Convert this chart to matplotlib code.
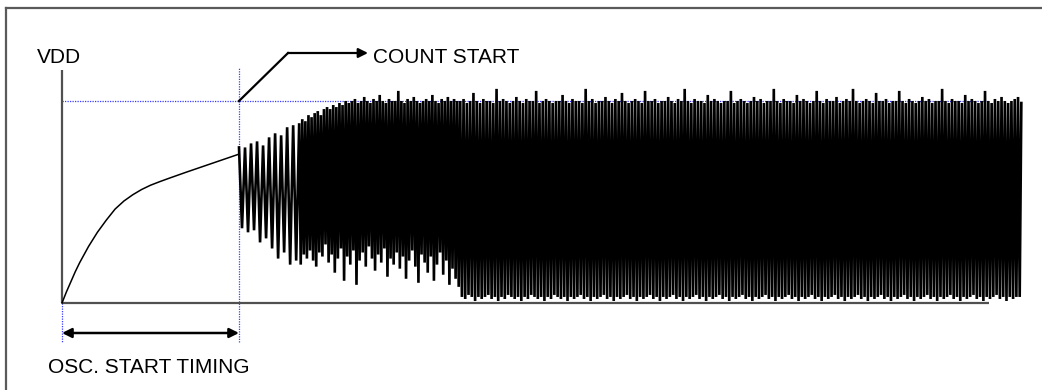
import numpy as np
import matplotlib
matplotlib.use("Agg")
import matplotlib.pyplot as plt
from matplotlib.lines import Line2D

plt.rcParams['font.family'] = ['Liberation Sans', 'DejaVu Sans']

# ---------------- data (time in ms, voltage in % of VDD) ----------------
curve_t = [0.0, 0.25, 0.5, 0.75, 1.0, 1.25, 1.5, 1.75, 2.0, 2.5, 3.0, 3.5,
           4.0, 4.5, 5.0, 5.5, 6.0, 7.0, 8.0, 9.0, 10.0]
curve_v = [0.0, 5.5, 10.5, 15.5, 20.0, 24.0, 28.0, 31.5, 35.0, 41.0, 46.5, 50.5,
           53.6, 56.2, 58.3, 60.0, 61.6, 64.7, 67.7, 70.7, 73.7]

seg_bounds_ms = [10.0, 13.4, 22.5, 54.2]

seg1_high = [77, 77, 79, 80, 78, 82, 84, 83, 87, 88]
seg1_low = [37, 35, 36, 30, 32, 27, 22, 25, 19, 21]

seg2_high = [89, 91, 90, 93, 92, 94, 95, 93, 96, 97,
             96, 98, 97, 99, 98, 100, 99, 100, 101, 99,
             100, 102, 100, 99, 101, 100, 103, 100, 99, 101,
             100, 100, 105, 100, 99, 101, 100, 102, 100, 99,
             100, 101, 100, 103, 100, 99, 101, 100, 102, 100,
             101, 100]
seg2_low = [19, 24, 22, 26, 21, 18, 25, 23, 29, 20,
            24, 15, 22, 27, 11, 23, 19, 26, 9, 21,
            25, 18, 28, 22, 16, 24, 20, 27, 13, 22,
            19, 25, 17, 23, 12, 21, 26, 18, 10, 24,
            20, 15, 23, 11, 19, 25, 14, 21, 9, 17,
            12, 8]

seg3_high = [100, 101, 99, 100, 104, 100, 99, 101, 100, 100,
             99, 106, 100, 101, 100, 99, 100, 102, 100, 99,
             101, 100, 100, 105, 99, 100, 101, 100, 99, 100,
             100, 103, 100, 99, 101, 100, 100, 99, 106, 100,
             101, 99, 100, 100, 102, 100, 99, 101, 100, 104,
             100, 99, 100, 101, 100, 99, 105, 100, 100, 101,
             99, 100, 100, 102, 100, 99, 101, 100, 106, 100,
             99, 101, 100, 100, 99, 103, 100, 101, 100, 99,
             100, 100, 105, 99, 100, 101, 100, 99, 100, 102,
             100, 101, 99, 100, 100, 106, 100, 99, 101, 100,
             100, 99, 103, 100, 101, 100, 99, 100, 105, 100,
             99, 101, 100, 100, 102, 99, 100, 101, 100, 106,
             100, 99, 100, 101, 100, 99, 104, 100, 100, 101,
             99, 100, 100, 105, 100, 99, 101, 100, 99, 100,
             102, 100, 101, 99, 100, 100, 106, 100, 99, 101,
             100, 100, 99, 103, 100, 101, 100, 99, 100, 105,
             100, 99, 101, 100, 102, 100, 99, 100, 101, 102]
seg3_low = [3, 2, 4, 3, 1, 3, 2, 3, 4, 2,
            3, 1, 3, 2, 4, 3, 2, 3, 1, 3,
            2, 4, 3, 2, 3, 1, 3, 2, 4, 3,
            2, 3, 1, 3, 2, 3, 4, 2, 3, 1,
            3, 2, 3, 4, 2, 3, 1, 3, 2, 3,
            4, 2, 3, 1, 3, 2, 3, 4, 2, 3,
            1, 3, 2, 3, 4, 2, 3, 1, 3, 2,
            3, 4, 2, 3, 1, 3, 2, 3, 4, 2,
            3, 1, 3, 2, 3, 4, 2, 3, 1, 3,
            2, 3, 4, 2, 3, 1, 3, 2, 3, 4,
            2, 3, 1, 3, 2, 3, 4, 2, 3, 1,
            3, 2, 3, 4, 2, 3, 1, 3, 2, 3,
            4, 2, 3, 1, 3, 2, 3, 4, 2, 3,
            1, 3, 2, 3, 4, 2, 3, 1, 3, 2,
            3, 4, 2, 3, 1, 3, 2, 3, 4, 2,
            3, 1, 3, 2, 3, 4, 2, 3, 1, 3,
            2, 3, 4, 2, 3, 1, 3, 2, 3, 3]
final_high = 99

vdd_level = 100
axis_end_ms = 52.4

# ---------------- build oscillation trace ----------------
segments = [(seg1_high, seg1_low), (seg2_high, seg2_low), (seg3_high, seg3_low)]
osc_t, osc_v = [], []
for k, (hi, lo) in enumerate(segments):
    t0, t1 = seg_bounds_ms[k], seg_bounds_ms[k + 1]
    n = min(len(hi), len(lo))
    dt = (t1 - t0) / n
    for i in range(n):
        osc_t += [t0 + i * dt, t0 + (i + 0.5) * dt]
        osc_v += [hi[i], lo[i]]
osc_t.append(seg_bounds_ms[-1])
osc_v.append(final_high)

# ---------------- figure ----------------
W, H = 1042, 390
fig = plt.figure(figsize=(W / 100, H / 100), dpi=100)
ax = fig.add_axes([0, 0, 1, 1])
PX_PER_MS = 17.7
PX_PER_PCT = 2.02
X0, Y0 = 62, 303
ax.set_xlim(-X0 / PX_PER_MS, (W - X0) / PX_PER_MS)
ax.set_ylim((Y0 - H) / PX_PER_PCT, Y0 / PX_PER_PCT)
ax.axis('off')

def px(x, y):
    return (x - X0) / PX_PER_MS, (Y0 - y) / PX_PER_PCT

blue = '#3c3cff'
dot = (0, (1, 1))

# frame (top and left edges)
fig.add_artist(Line2D([6 / W, 6 / W], [0, 1 - 8 / H], color='#5a5a5a', lw=1.6))
fig.add_artist(Line2D([6 / W, 1], [1 - 8 / H, 1 - 8 / H], color='#5a5a5a', lw=1.6))

# dotted guides
ax.plot([0, axis_end_ms], [vdd_level, vdd_level], color=blue, lw=0.9, ls=dot, zorder=1)
ax.plot([0, 0], [0, px(0, 342)[1]], color=blue, lw=0.9, ls=dot, zorder=1)
ax.plot([seg_bounds_ms[0]] * 2, [px(0, 342)[1], px(0, 68)[1]], color=blue, lw=0.9, ls=dot, zorder=1)

# axes lines
ax.plot([0, 0], [0, px(0, 70)[1]], color='#505050', lw=1.6, solid_capstyle='butt', zorder=2)
ax.plot([0, axis_end_ms], [0, 0], color='#505050', lw=1.6, solid_capstyle='butt', zorder=2)

# VDD rise curve
ax.plot(curve_t, curve_v, color='black', lw=1.1, zorder=3)
# oscillation
ax.plot(osc_t, osc_v, color='black', lw=1.9, zorder=3, solid_joinstyle='miter')

# count start arrow
c1 = px(288, 53)
c2 = px(368, 53)
ax.plot([seg_bounds_ms[0], c1[0]], [vdd_level, c1[1]], color='black', lw=1.6, zorder=4)
ax.annotate('', xy=c2, xytext=c1,
            arrowprops=dict(arrowstyle='-|>', color='black', lw=1.6,
                            mutation_scale=14, shrinkA=0, shrinkB=0))

# OSC start timing double arrow
ya = px(0, 333)[1]
ax.annotate('', xy=(seg_bounds_ms[0], ya), xytext=(0, ya),
            arrowprops=dict(arrowstyle='<|-|>', color='black', lw=1.8,
                            mutation_scale=14, shrinkA=0, shrinkB=0))

fs = 15
ax.text(*px(37, 63), 'VDD', fontsize=fs, ha='left', va='baseline')
ax.text(*px(373, 63), 'COUNT START', fontsize=fs, ha='left', va='baseline')
ax.text(*px(48, 373), 'OSC. START TIMING', fontsize=fs, ha='left', va='baseline')

fig.savefig('out.png', dpi=100)
